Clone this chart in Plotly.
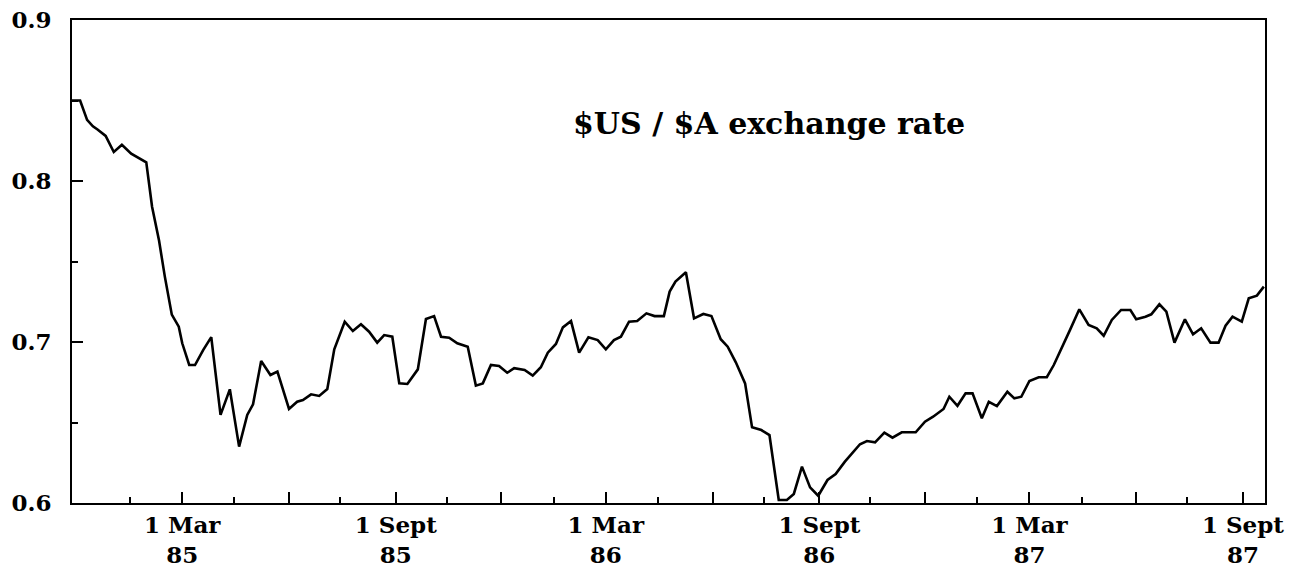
import pandas as pd
import plotly.graph_objects as go

# days since 1 March 1985 for each traced observation
days = [-95, -88, -82, -77, -73, -66, -59, -52, -44, -31, -26, -20, -15, -9, -3, 0, 6, 11, 18, 25,
        33, 41, 49, 56, 61, 68, 76, 82, 92, 99, 104, 111, 118, 125, 131, 140, 147, 154, 161, 168,
        174, 181, 187, 194, 203, 210, 217, 223, 230, 237, 246, 253, 259, 266, 273, 280, 286, 295,
        302, 309, 315, 322, 328, 335, 342, 350, 358, 365, 372, 378, 385, 392, 400, 407, 415, 420,
        425, 434, 441, 449, 456, 464, 470, 477, 485, 491, 499, 506, 514, 521, 527, 534, 541, 548,
        556, 563, 571, 577, 584, 590, 597, 605, 612, 620, 632, 640, 647, 656, 661, 668, 675, 681,
        689, 695, 702, 711, 717, 723, 730, 738, 745, 751, 758, 765, 773, 781, 788, 794, 801, 809,
        817, 822, 830, 835, 842, 848, 855, 864, 871, 878, 886, 893, 899, 905, 913, 919, 926, 932]

rate = [0.850, 0.850, 0.838, 0.834, 0.832, 0.828, 0.818, 0.8225, 0.817, 0.8116, 0.784, 0.763,
        0.7406, 0.717, 0.7095, 0.6992, 0.6857, 0.6857, 0.695, 0.703, 0.6547, 0.6706, 0.635,
        0.6547, 0.6613, 0.6882, 0.6795, 0.6816, 0.6584, 0.6629, 0.664, 0.6675, 0.6665, 0.6708,
        0.6955, 0.7126, 0.7068, 0.711, 0.7064, 0.6996, 0.7043, 0.7033, 0.6743, 0.6739, 0.683,
        0.7143, 0.7161, 0.7033, 0.7027, 0.6992, 0.6971, 0.6729, 0.6743, 0.6857, 0.6851, 0.6809,
        0.6837, 0.6826, 0.6791, 0.6843, 0.6934, 0.6988, 0.7091, 0.713, 0.6934, 0.7029, 0.7012,
        0.6955, 0.7012, 0.7033, 0.7126, 0.713, 0.7178, 0.7161, 0.7161, 0.7313, 0.7375, 0.7433,
        0.7147, 0.7174, 0.7161, 0.7017, 0.6971, 0.6874, 0.6743, 0.647, 0.6453, 0.6422, 0.6019,
        0.6019, 0.6056, 0.6226, 0.6097, 0.6045, 0.6143, 0.618, 0.6257, 0.6304, 0.6365, 0.6385,
        0.6377, 0.6437, 0.6406, 0.6439, 0.6439, 0.6505, 0.6536, 0.6584, 0.666, 0.6604, 0.6681,
        0.6681, 0.6526, 0.6629, 0.6602, 0.6691, 0.665, 0.666, 0.6758, 0.6781, 0.6781, 0.6857,
        0.6961, 0.7075, 0.7203, 0.7106, 0.7085, 0.7039, 0.7137, 0.7199, 0.7199, 0.7141, 0.7157,
        0.7172, 0.7234, 0.7188, 0.6996, 0.7141, 0.7048, 0.7085, 0.6996, 0.6996, 0.7101, 0.7157,
        0.7126, 0.7271, 0.7288, 0.7344]

major_ticks = ["1985-03-01", "1985-06-01", "1985-09-01", "1985-12-01", "1986-03-01", "1986-06-01",
               "1986-09-01", "1986-12-01", "1987-03-01", "1987-06-01", "1987-09-01"]
major_text = ["1 Mar<br>85", "", "1 Sept<br>85", "", "1 Mar<br>86", "", "1 Sept<br>86", "",
              "1 Mar<br>87", "", "1 Sept<br>87"]
minor_ticks = ["1985-01-15", "1985-04-15", "1985-07-15", "1985-10-15", "1986-01-15", "1986-04-15",
               "1986-07-15", "1986-10-15", "1987-01-15", "1987-04-15", "1987-07-15"]
y_ticks = [0.6, 0.7, 0.8, 0.9]
y_text = ["0.6", "0.7", "0.8", "0.9"]
y_minor = [0.65, 0.75, 0.85]
title_text = "$US / $A exchange rate"

dates = pd.Timestamp("1985-03-01") + pd.to_timedelta(days, unit="D")

FONT = "DejaVu Serif"

fig = go.Figure()
fig.add_trace(go.Scatter(x=dates, y=rate, mode="lines",
                         line=dict(color="black", width=2.6), showlegend=False))

fig.update_layout(
    width=1289, height=577,
    margin=dict(l=72, r=24, t=20, b=74),
    plot_bgcolor="white", paper_bgcolor="white",
    font=dict(family=FONT, color="black", size=24, weight="bold"),
    xaxis=dict(
        range=["1984-11-26", "1987-09-20"], automargin=False,
        tickmode="array", tickvals=major_ticks, ticktext=major_text,
        ticks="inside", ticklen=11, tickwidth=2, tickcolor="black",
        showline=True, linecolor="black", linewidth=2, mirror=True,
        showgrid=False, zeroline=False,
        tickfont=dict(family=FONT, size=23, weight="bold"),
        ticklabelstandoff=0,
        minor=dict(tickmode="array", tickvals=minor_ticks, ticks="inside",
                   ticklen=6, tickwidth=2, tickcolor="black", showgrid=False),
    ),
    yaxis=dict(
        range=[0.6, 0.9], automargin=False,
        tickmode="array", tickvals=y_ticks, ticktext=y_text,
        ticks="inside", ticklen=11, tickwidth=2, tickcolor="black",
        showline=True, linecolor="black", linewidth=2, mirror=True,
        showgrid=False, zeroline=False,
        tickfont=dict(family=FONT, size=23, weight="bold"),
        ticklabelstandoff=14,
        minor=dict(tickmode="array", tickvals=y_minor, ticks="inside",
                   ticklen=6, tickwidth=2, tickcolor="black", showgrid=False),
    ),
    annotations=[dict(text=title_text, xref="paper", yref="paper", x=0.584, y=0.785,
                      xanchor="center", yanchor="middle", showarrow=False,
                      font=dict(family=FONT, size=30, weight="bold", color="black"))],
)

fig.write_html("out.html", config={"displayModeBar": False},
               post_script="document.body.style.margin='0';document.body.style.overflow='hidden';")
